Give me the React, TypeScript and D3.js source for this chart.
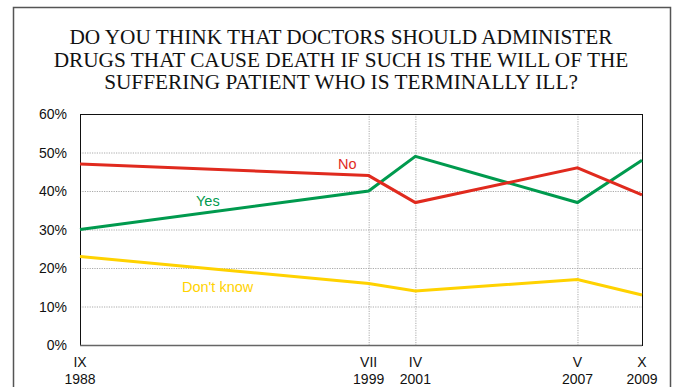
import React from "react";
import * as d3 from "d3";

// Survey dates (month, year) and the share of answers at each date
const surveyMonths = ["IX", "VII", "IV", "V", "X"];
const surveyYears = ["1988", "1999", "2001", "2007", "2009"];
const surveyDates = [
  new Date(1988, 8, 1),
  new Date(1999, 6, 1),
  new Date(2001, 3, 1),
  new Date(2007, 4, 1),
  new Date(2009, 9, 1),
];
const yesValues = [30, 40, 49, 37, 48];
const noValues = [47, 44, 37, 46, 39];
const dontKnowValues = [23, 16, 14, 17, 13];
const yTicks = [0, 10, 20, 30, 40, 50, 60];
const titleLines = [
  "DO YOU THINK THAT DOCTORS SHOULD ADMINISTER",
  "DRUGS THAT CAUSE DEATH IF SUCH IS THE WILL OF THE",
  "SUFFERING PATIENT WHO IS TERMINALLY ILL?",
];

const W = 678;
const H = 387;
const plot = { left: 80, right: 642, top: 114, bottom: 345 };

const sans = "'Liberation Sans', Arial, Helvetica, sans-serif";
const serif = "'Liberation Serif', 'Times New Roman', Times, serif";

export default function App() {
  const x = d3
    .scaleTime()
    .domain([surveyDates[0], surveyDates[surveyDates.length - 1]])
    .range([plot.left, plot.right]);
  const y = d3.scaleLinear().domain([0, 60]).range([plot.bottom, plot.top]);

  const line = d3
    .line<number>()
    .x((_, i) => x(surveyDates[i]))
    .y((v) => y(v));

  const series = [
    { name: "Don't know", values: dontKnowValues, color: "#ffd200", lx: 182, ly: 292 },
    { name: "Yes", values: yesValues, color: "#009a4e", lx: 196, ly: 206 },
    { name: "No", values: noValues, color: "#e02a1e", lx: 338, ly: 169 },
  ];

  return (
    <svg
      width={W}
      height={H}
      style={{ position: "absolute", left: 0, top: 0, background: "#fff" }}
    >
      <rect x={0} y={0} width={W} height={H} fill="#fff" />
      {/* outer frame */}
      <path
        d={`M13.5,${H + 2} V7.5 H670.5 V${H + 2}`}
        fill="none"
        stroke="#555"
        strokeWidth={1.5}
      />
      {/* title */}
      <text fontFamily={serif} fontSize={21.3} fill="#111" textAnchor="middle">
        {titleLines.map((t, i) => (
          <tspan key={i} x={341} y={44 + i * 22.6}>
            {t}
          </tspan>
        ))}
      </text>
      {/* horizontal grid */}
      {yTicks
        .filter((t) => t > 0 && t < 60)
        .map((t) => (
          <line
            key={t}
            x1={plot.left}
            x2={plot.right}
            y1={y(t) + 0.5}
            y2={y(t) + 0.5}
            stroke="#aaa"
            strokeDasharray="1.2,1.2"
          />
        ))}
      {/* vertical grid at intermediate surveys */}
      {surveyDates.slice(1, -1).map((d, i) => (
        <line
          key={i}
          x1={x(d) + 0.5}
          x2={x(d) + 0.5}
          y1={plot.top}
          y2={plot.bottom}
          stroke="#aaa"
          strokeDasharray="1.2,1.2"
        />
      ))}
      {/* plot frame */}
      <rect
        x={plot.left + 0.5}
        y={plot.top + 0.5}
        width={plot.right - plot.left}
        height={plot.bottom - plot.top}
        fill="none"
        stroke="#111"
        strokeWidth={1}
      />
      <line
        x1={plot.left}
        x2={plot.right}
        y1={plot.bottom + 0.5}
        y2={plot.bottom + 0.5}
        stroke="#666"
        strokeWidth={1.5}
      />
      {/* y tick labels */}
      {yTicks.map((t) => (
        <text
          key={t}
          x={67}
          y={y(t) + 5}
          textAnchor="end"
          fontFamily={sans}
          fontSize={14}
          fill="#111"
        >
          {t}%
        </text>
      ))}
      {/* x tick labels */}
      {surveyDates.map((d, i) => (
        <text
          key={i}
          textAnchor="middle"
          fontFamily={sans}
          fontSize={14}
          fill="#111"
        >
          <tspan x={x(d)} y={367}>
            {surveyMonths[i]}
          </tspan>
          <tspan x={x(d)} y={384}>
            {surveyYears[i]}
          </tspan>
        </text>
      ))}
      {/* series */}
      {series.map((s) => (
        <g key={s.name}>
          <path
            d={line(s.values) || ""}
            fill="none"
            stroke={s.color}
            strokeWidth={3}
            strokeLinejoin="miter"
          />
          <text
            x={s.lx}
            y={s.ly}
            fontFamily={sans}
            fontSize={14.5}
            fill={s.color}
          >
            {s.name}
          </text>
        </g>
      ))}
    </svg>
  );
}
